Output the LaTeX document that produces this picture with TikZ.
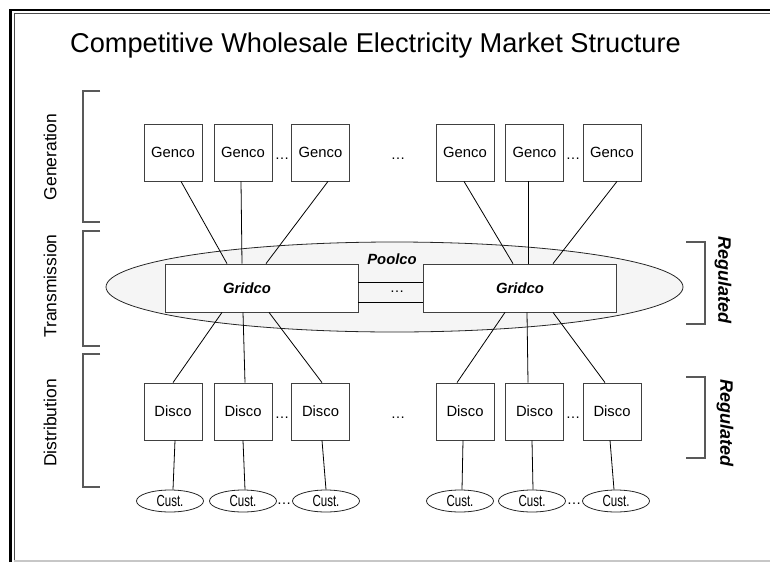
\documentclass[tikz,border=0pt]{standalone}
\usepackage{fontspec}
\setmainfont{Liberation Sans}
\newfontfamily\custfont[FakeStretch=0.72]{Liberation Sans}
\usetikzlibrary{shapes.geometric}

\begin{document}
\begin{tikzpicture}[x=1pt,y=-1pt,line width=0.8pt,
  box node/.style={rectangle,draw=black!75,fill=white,minimum width=58pt,minimum height=57pt,inner sep=0pt,font=\fontsize{14.8}{16}\selectfont},
  grid node/.style={rectangle,draw=black!75,fill=white,minimum width=193pt,minimum height=48pt,inner sep=0pt,font=\fontsize{14.8}{16}\selectfont\bfseries\itshape},
  cust node/.style={ellipse,draw=black!85,fill=white,minimum width=67pt,minimum height=22pt,inner sep=0pt,font=\custfont\fontsize{16}{17}\selectfont},
  pool node/.style={ellipse,draw=black!85,fill=black!4,minimum width=577pt,minimum height=90pt},
  dots node/.style={inner sep=0pt,font=\fontsize{14.5}{16}\selectfont},
  side label/.style={rotate=90,font=\fontsize{17.5}{20}\selectfont},
  reg label/.style={rotate=-90,font=\fontsize{18}{20}\selectfont\bfseries\itshape},
  bracket/.style={draw=black!65,line width=1.2pt}]
  \useasboundingbox (0,0) rectangle (770,562);

  % frame
  \draw[line width=2.5pt] (10.3,562) -- (10.3,10) -- (770,10);
  \draw[black!70,line width=1pt] (14.2,562) -- (14.2,13.6) -- (770,13.6);
  \draw[black!22,line width=1.5pt] (14,561) -- (770,561);

  \node[font=\fontsize{27.2}{31}\selectfont] (title) at (375.5,45) {Competitive Wholesale Electricity Market Structure};

  % sections
  \node[side label] (gen) at (50,157) {Generation};
  \node[side label] (trans) at (50,286) {Transmission};
  \node[side label] (dist) at (50,423) {Distribution};
  \draw[bracket] (100,91) -- (83,91) -- (83,222) -- (100,222);
  \draw[bracket] (100,231) -- (83,231) -- (83,346) -- (100,346);
  \draw[bracket] (100,354) -- (83,354) -- (83,487) -- (100,487);

  \node[reg label] (reg1) at (723,280) {Regulated};
  \node[reg label] (reg2) at (725,423) {Regulated};
  \draw[bracket] (686,242) -- (705,242) -- (705,324) -- (686,324);
  \draw[bracket] (686,377) -- (705,377) -- (705,458) -- (686,458);

  % pool and grid
  \node[pool node] (pool) at (394.5,287) {};
  \node[font=\fontsize{14.8}{16}\selectfont\bfseries\itshape] (poolco) at (392,259) {Poolco};
  \node[grid node,label={[xshift=-14.5pt,font=\fontsize{14.8}{16}\selectfont\bfseries\itshape]center:Gridco}] (gl) at (261.5,288) {};
  \node[grid node] (gr) at (520,288) {Gridco};
  \node[dots node] (gdots) at (397,292) {…};
  \path ([yshift=6]gl.east) edge ([yshift=6]gr.west)
        ([yshift=-14]gl.east) edge ([yshift=-14]gr.west);

  % gencos
  \node[box node] (g1) at (173,152.5) {Genco};
  \node[box node] (g2) at (243,152.5) {Genco};
  \node[box node] (g3) at (320.5,152.5) {Genco};
  \node[box node] (g4) at (465,152.5) {Genco};
  \node[box node] (g5) at (534.5,152.5) {Genco};
  \node[box node] (g6) at (612,152.5) {Genco};
  \node[dots node] (gd1) at (282,159) {…};
  \node[dots node] (gd2) at (398,159) {…};
  \node[dots node] (gd3) at (573,159) {…};

  % discos
  \node[box node] (d1) at (173,411.5) {Disco};
  \node[box node] (d2) at (243,411.5) {Disco};
  \node[box node] (d3) at (320.5,411.5) {Disco};
  \node[box node] (d4) at (465,411.5) {Disco};
  \node[box node] (d5) at (534.5,411.5) {Disco};
  \node[box node] (d6) at (612,411.5) {Disco};
  \node[dots node] (dd1) at (282,418) {…};
  \node[dots node] (dd2) at (398,418) {…};
  \node[dots node] (dd3) at (573,418) {…};

  % customers
  \node[cust node] (c1) at (170,501) {Cust.};
  \node[cust node] (c2) at (243,501) {Cust.};
  \node[cust node] (c3) at (326,501) {Cust.};
  \node[cust node] (c4) at (460,501) {Cust.};
  \node[cust node] (c5) at (532,501) {Cust.};
  \node[cust node] (c6) at (616,501) {Cust.};
  \node[dots node] (cd1) at (284,504) {…};
  \node[dots node] (cd2) at (574,504) {…};

  \path
    ([xshift=8]g1.south) edge ([xshift=-34.5]gl.north)
    ([xshift=-2]g2.south) edge ([xshift=-19.5]gl.north)
    ([xshift=7.5]g3.south) edge ([xshift=4.5]gl.north)
    ([xshift=-1]g4.south) edge ([xshift=-7]gr.north)
    ([xshift=-6.5]g5.south) edge ([xshift=8]gr.north)
    ([xshift=5]g6.south) edge ([xshift=33]gr.north)

    ([xshift=-39.5]gl.south) edge (d1.north)
    ([xshift=-18.5]gl.south) edge ([xshift=2]d2.north)
    ([xshift=7.5]gl.south) edge ([xshift=1.5]d3.north)
    ([xshift=-15]gr.south) edge ([xshift=-8]d4.north)
    ([xshift=7]gr.south) edge ([xshift=-6.5]d5.north)
    ([xshift=33]gr.south) edge ([xshift=-7]d6.north)

    ([xshift=2]d1.south) edge ([xshift=3]c1.north)
    (d2.south) edge ([xshift=2]c2.north)
    ([xshift=1.5]d3.south) edge (c3.north)
    ([xshift=-2]d4.south) edge ([xshift=2]c4.north)
    ([xshift=-2.5]d5.south) edge ([xshift=1]c5.north)
    ([xshift=-2]d6.south) edge ([xshift=-2]c6.north);
\end{tikzpicture}
\end{document}
